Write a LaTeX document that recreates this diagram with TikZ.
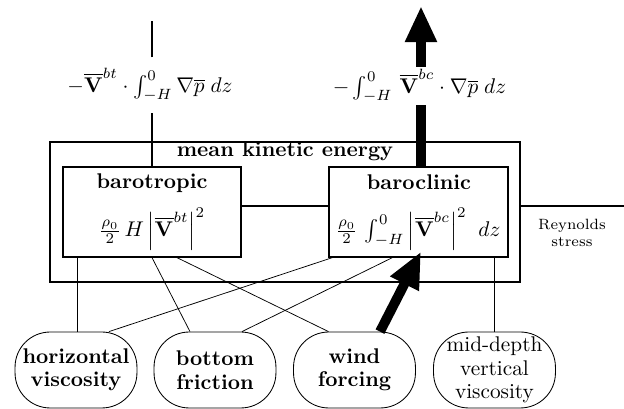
\documentclass[tikz,border=0pt]{standalone}
\usetikzlibrary{arrows.meta,calc}
\begin{document}
\begin{tikzpicture}[x=0.47pt,y=-0.47pt,
  thickline/.style={line width=0.6pt},
  thinline/.style={line width=0.35pt},
  energybox/.style={draw,line width=0.6pt,rectangle,inner sep=0pt},
  termnode/.style={draw,line width=0.4pt,rectangle,rounded corners=16.5pt,
    minimum width=57.3pt,minimum height=35.7pt,inner sep=0pt,align=center},
  flowshaft/.style={line width=4.6pt},
  flowarrow/.style={line width=4.6pt,-{Triangle[length=17pt,width=14pt]}},
  boldlabel/.style={font=\bfseries,inner sep=0pt,anchor=base},
]
\useasboundingbox (0,0) rectangle (624,409);

% energy boxes
\node[energybox,minimum width=220.9pt,minimum height=65.8pt] (mke) at (285,212) {};
\node[boldlabel] (mketitle) at (285,157) {mean kinetic energy};
\node[energybox,minimum width=83.7pt,minimum height=42.3pt] (bt) at (152,212) {};
\node[energybox,minimum width=84.1pt,minimum height=42.3pt] (bc) at (418.5,212) {};
\node[boldlabel] (bttitle) at (152,189) {barotropic};
\node[boldlabel] (bctitle) at (419,190) {baroclinic};
\node[inner sep=0pt] (btform) at (152,229) {$\frac{\rho_0}{2}\,H\,\Big|\overline{\mathbf{V}}^{bt}\Big|^2$};
\node[inner sep=0pt] (bcform) at (418,229) {$\frac{\rho_0}{2}\,\int_{-H}^{0}\Big|\overline{\mathbf{V}}^{bc}\Big|^2\;\;dz$};

% bottom terms
\node[termnode,font=\bfseries\fontsize{10}{11}\selectfont] (hv) at (76,370) {horizontal\\viscosity};
\node[termnode,font=\bfseries\fontsize{10}{11}\selectfont] (bf) at (215,370) {bottom\\friction};
\node[termnode,font=\bfseries\fontsize{10}{11}\selectfont] (wf) at (354.5,370) {wind\\forcing};
\node[termnode,font=\fontsize{10}{11}\selectfont] (md) at (494.5,370) {mid-depth\\vertical\\viscosity};

% top conversion terms
\coordinate (ltop) at (152,21);
\coordinate (rtop) at (421,6);
\node[inner xsep=2pt,inner ysep=5pt] (f1) at (150,85) {$-\overline{\mathbf{V}}^{bt}\cdot\int_{-H}^{0}\nabla\overline{p}\;dz$};
\node[inner sep=1pt] (f2) at (419.5,86) {$-\int_{-H}^{0}\,\overline{\mathbf{V}}^{bc}\cdot\nabla\overline{p}\;dz$};
\draw[thickline] (bt.north) -- (bt.north |- f1.south);
\draw[thickline] (bt.north |- f1.north) -- (ltop);
\draw[flowshaft] ($(bc.north)+(2.5,0)$) -- (rtop |- f2.south);
\draw[flowarrow] (rtop |- f2.north) -- (rtop);

% links between boxes
\draw[thickline] ($(bt.east)+(0,-6)$) -- ($(bc.west)+(0,-6)$);
\coordinate (rsend) at (624,206);
\draw[thickline] ($(mke.east)+(0,-6)$) -- (rsend);
\node[font=\scriptsize,align=center,inner sep=0pt] (rs) at (572,233) {Reynolds\\stress};

% links to terms
\coordinate (hvtop) at ($(bt.south west)+(15,0)$);
\draw[thickline] (hvtop) -- (hvtop |- hv.north);
\draw[thinline] ($(hv.north)+(33,0)$) -- ($(bc.south west)+(4,0)$);
\draw[thinline] (bt.south) -- ($(bf.north)+(-25,0)$);
\draw[thinline] ($(bt.south)+(25,0)$) -- ($(wf.north)+(-26,0)$);
\draw[thinline] ($(bf.north)+(27,0)$) -- ($(bc.south west)+(64,0)$);
\coordinate (mdtop) at ($(bc.south west)+(166,0)$);
\draw[thickline] (mdtop) -- (mdtop |- md.north);
\coordinate (bctip) at ($(bc.south)+(2.5,-6)$);
\draw[flowarrow] ($(wf.north)+(25.5,0)$) -- (bctip);
\end{tikzpicture}
\end{document}
